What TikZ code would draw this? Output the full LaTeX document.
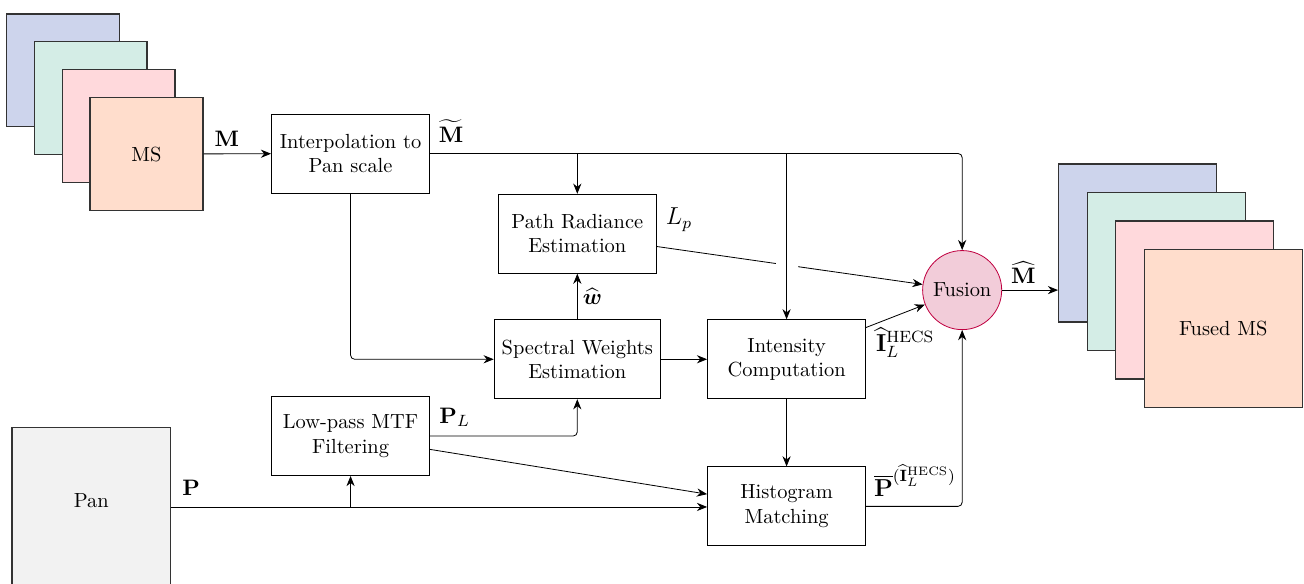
\documentclass[tikz,border=0pt]{standalone}
\usepackage{amsmath}
\usetikzlibrary{arrows.meta,calc}
\definecolor{bandBlue}{RGB}{205,212,236}
\definecolor{bandGreen}{RGB}{212,237,230}
\definecolor{bandPink}{RGB}{255,217,220}
\definecolor{bandOrange}{RGB}{255,221,204}
\definecolor{panGray}{RGB}{242,242,242}
\begin{document}
\begin{tikzpicture}
[blockDecorate/.style={shape=rectangle,draw,align=center,minimum width=2.72cm,minimum height=1.36cm,inner xsep=3.7pt},%
  bandDecorate/.style={shape=rectangle,draw=black!80,semithick,inner sep=0pt},
  fuseDecorate/.style={shape=circle,draw=purple,fill=purple!20,minimum size=1.36cm,inner sep=0pt},
  lineDecorate/.style={-{Stealth[length=5pt,width=4pt]},rounded corners=2pt},
  labelDecorate/.style={font=\fontsize{11}{13}\selectfont,inner sep=0pt},
  scale=1]
\useasboundingbox (0,0) rectangle (22.43,10.04);
%% image stacks
\foreach \nodename/\col/\k/\txt in {
  msA/bandBlue/3/{}, msB/bandGreen/2/{}, msC/bandPink/1/{}, msD/bandOrange/0/MS}
{
  \node (\nodename) at (2.52-0.48*\k,7.39+0.48*\k) [bandDecorate,fill=\col,minimum size=1.94cm] {\txt};
}
\foreach \nodename/\col/\k/\txt in {
  fmsA/bandBlue/3/{}, fmsB/bandGreen/2/{}, fmsC/bandPink/1/{}, fmsD/bandOrange/0/Fused MS}
{
  \node (\nodename) at (21.04-0.49*\k,4.39+0.49*\k) [bandDecorate,fill=\col,minimum size=2.72cm] {\txt};
}
\node (pan) at (1.57,1.32) [bandDecorate,fill=panGray,minimum size=2.73cm] {};
\node (panText) at (1.57,1.43) {Pan};
%% processing blocks
\foreach \nodename/\x/\y/\txt in {
  interp/6.03/7.40/{Interpolation to\\Pan scale},
  pathrad/9.93/6.02/{Path Radiance\\Estimation},
  specw/9.93/3.86/{Spectral Weights\\Estimation},
  intens/13.53/3.86/{Intensity\\Computation},
  lowpass/6.03/2.54/{Low-pass MTF\\Filtering},
  histo/13.53/1.33/{Histogram\\Matching}}
{
  \node (\nodename) at (\x,\y) [blockDecorate] {\txt};
}
\node (fusion) at (16.55,5.05) [fuseDecorate] {Fusion};
%% connectors
\draw[lineDecorate] (msD) -- (interp);
\draw[lineDecorate] (interp.east) -| (fusion.north);
\draw[lineDecorate] (interp.east -| pathrad.north) -- (pathrad.north);
\draw[lineDecorate] (interp.east -| intens.north) -- (intens.north);
\draw[lineDecorate] (interp.south) |- (specw.west);
\draw[lineDecorate] (specw) -- (pathrad);
\draw[lineDecorate] (specw) -- (intens);
\draw[lineDecorate] (intens) -- (histo);
\draw[lineDecorate] ([yshift=-0.14cm]intens.north east) -- (fusion);
\draw[lineDecorate] (histo.east) -| (fusion.south);
\draw[lineDecorate] (fusion.east) -- (fusion.east -| fmsA.west);
\draw[lineDecorate] (pan.east) -- (pan.east -| histo.west);
\draw[lineDecorate] (pan.east -| lowpass.south) -- (lowpass.south);
\draw[lineDecorate] (lowpass.east) -| (specw.south);
\draw[lineDecorate] ([yshift=-0.23cm]lowpass.east) -- ([yshift=0.21cm]histo.west);
%% path radiance line, broken where it crosses
\coordinate (lpStart) at ([yshift=-0.22cm]pathrad.east);
\coordinate (lpGapA) at ($(lpStart)!0.39!(fusion)$);
\coordinate (lpGapB) at ($(lpStart)!0.463!(fusion)$);
\draw (lpStart) -- (lpGapA);
\draw[lineDecorate] (lpGapB) -- (fusion);
%% labels
\node (lblM) at (3.90,7.65) [labelDecorate] {$\mathbf{M}$};
\node (lblMt) at (7.76,7.79) [labelDecorate] {$\widetilde{\mathbf{M}}$};
\node (lblLp) at (11.68,6.26) [labelDecorate,font=\large] {$L_p$};
\node (lblW) at (10.19,4.94) [labelDecorate] {$\widehat{\boldsymbol{w}}$};
\node (lblPL) at (7.82,2.86) [labelDecorate] {$\mathbf{P}_L$};
\node (lblP) at (3.29,1.65) [labelDecorate] {$\mathbf{P}$};
\node (lblI) at (15.57,4.15) [labelDecorate,font=\large] {$\widehat{\mathbf{I}}_L^{\mathrm{HECS}}$};
\node (lblPbar) at (15.74,1.77) [labelDecorate,font=\large] {$\overline{\mathbf{P}}^{(\widehat{\mathbf{I}}_L^{\mathrm{HECS}})}$};
\node (lblMh) at (17.60,5.35) [labelDecorate] {$\widehat{\mathbf{M}}$};
\end{tikzpicture}
\end{document}
